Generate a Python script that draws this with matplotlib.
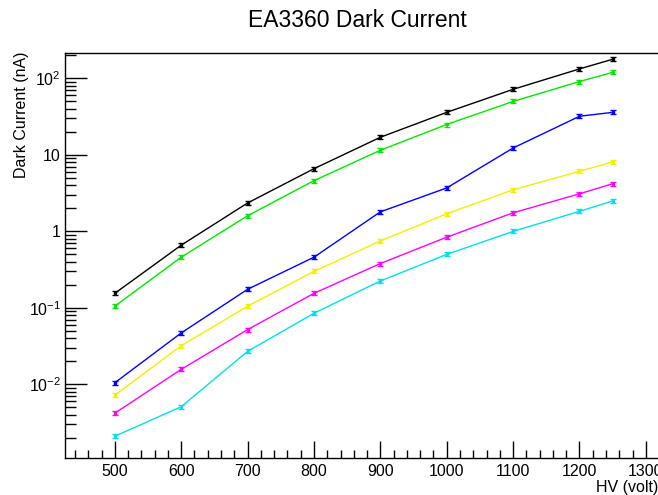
import numpy as np
import matplotlib
matplotlib.use('Agg')
import matplotlib.pyplot as plt
from matplotlib.ticker import FixedLocator, NullFormatter

plt.rcParams['font.family'] = ['Liberation Sans', 'DejaVu Sans']
plt.rcParams['mathtext.fontset'] = 'custom'
plt.rcParams['mathtext.rm'] = 'Liberation Sans'

# high voltage (volt)
hv = [500, 600, 700, 800, 900, 1000, 1100, 1200, 1250]

# dark current (nA), one list per tube
cur_black = [0.155, 0.66, 2.35, 6.6, 17.0, 36.0, 72.0, 133.0, 178.0]
cur_green = [0.105, 0.46, 1.6, 4.6, 11.5, 25.0, 50.0, 91.0, 120.0]
cur_blue = [0.0105, 0.047, 0.175, 0.46, 1.8, 3.7, 12.3, 32.0, 36.0]
cur_yellow = [0.0072, 0.032, 0.105, 0.30, 0.75, 1.7, 3.5, 6.1, 8.1]
cur_magenta = [0.0042, 0.0157, 0.052, 0.155, 0.38, 0.84, 1.75, 3.1, 4.2]
cur_cyan = [0.0021, 0.0051, 0.027, 0.085, 0.225, 0.50, 1.0, 1.83, 2.5]

rel_err = 0.06

series = [
    (cur_black, 'black'),
    (cur_green, '#00e600'),
    (cur_blue, '#0000ff'),
    (cur_yellow, '#f0f000'),
    (cur_magenta, '#ff00ff'),
    (cur_cyan, '#00e0e0'),
]

fig = plt.figure(figsize=(6.58, 4.95), dpi=100)
ax = fig.add_axes([0.0988, 0.0747, 0.908, 0.8186])

for vals, col in series:
    v = np.array(vals)
    ax.errorbar(hv, v, yerr=v * rel_err, color=col, lw=1.0, elinewidth=1.2,
                capsize=2, capthick=1.0, marker='s', ms=2)

ax.set_yscale('log')
ax.set_xlim(425, 1325)
ax.set_ylim(1.09e-3, 216)

ax.xaxis.set_major_locator(FixedLocator([500, 600, 700, 800, 900, 1000, 1100, 1200, 1300]))
ax.xaxis.set_minor_locator(FixedLocator(np.arange(440, 1325, 20)))
ax.set_xticklabels(['500', '600', '700', '800', '900', '1000', '1100', '1200', '1300'])

ax.yaxis.set_major_locator(FixedLocator([0.01, 0.1, 1, 10, 100]))
ax.set_yticklabels(['$10^{-2}$', '$10^{-1}$', '1', '10', '$10^{2}$'])
minors = [m * 10.0 ** e for e in range(-3, 3) for m in range(2, 10)]
ax.yaxis.set_minor_locator(FixedLocator(minors))
ax.yaxis.set_minor_formatter(NullFormatter())

ax.tick_params(axis='both', which='both', direction='in', labelsize=11.5,
               top=False, right=False, width=1.0, color='black')
ax.tick_params(axis='x', which='major', length=12, pad=4)
ax.tick_params(axis='x', which='minor', length=6)
ax.tick_params(axis='y', which='major', length=16, pad=3)
ax.tick_params(axis='y', which='minor', length=8)

for s in ax.spines.values():
    s.set_linewidth(1.0)

fig.text(0.543, 0.958, 'EA3360 Dark Current', ha='center', va='center', fontsize=16.5)
fig.text(1.0, 0.016, 'HV (volt)', ha='right', va='center', fontsize=11.5)
fig.text(0.033, 0.895, 'Dark Current (nA)', ha='center', va='top', rotation=90, fontsize=11.5)

fig.savefig('out.png', dpi=100)
